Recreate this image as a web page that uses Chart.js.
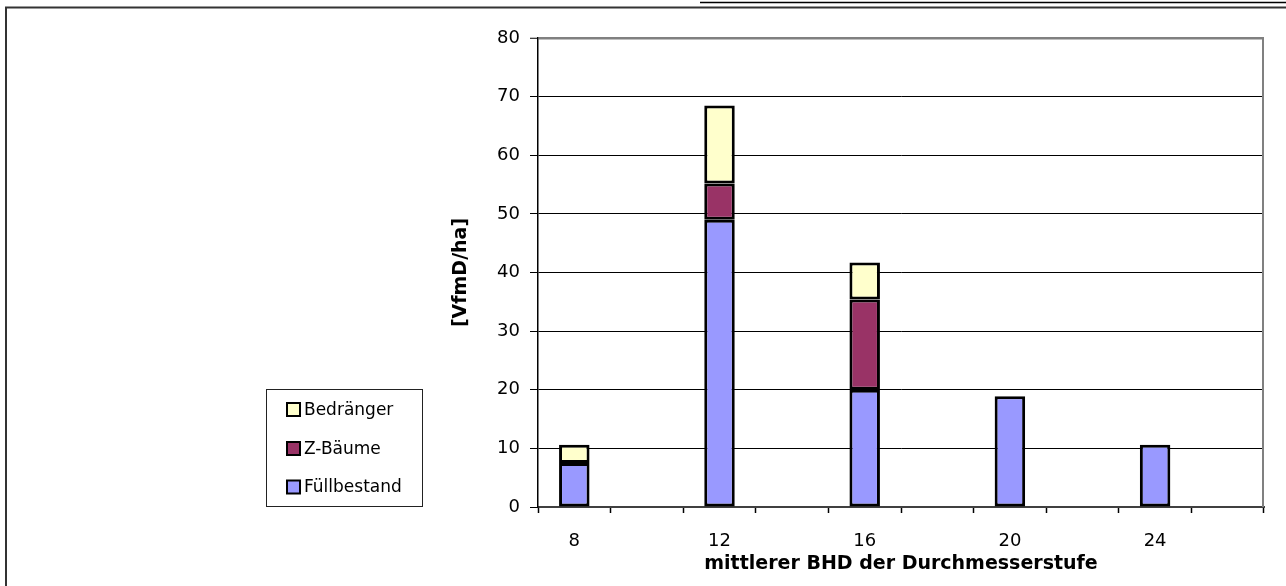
<!DOCTYPE html>
<html>
<head>
<meta charset="utf-8">
<script src="https://cdn.jsdelivr.net/npm/chart.js@4/dist/chart.umd.min.js"></script>
<style>
html,body{margin:0;padding:0;background:#fff;}
canvas{display:block;}
</style>
</head>
<body>
<canvas id="c" width="1286" height="586"></canvas>
<script>
const categories = ['8','10','12','14','16','18','20','22','24','26'];
const fuellbestand = [7.5, null, 49.0, null, 20.0, null, 18.9, null, 10.6, null];
const zBaeume      = [null, null, 6.2, null, 15.4, null, null, null, null, null];
const bedraenger   = [3.1, null, 13.3, null, 6.3, null, null, null, null, null];
const yTicks = [0,10,20,30,40,50,60,70,80];

const FONT = "'DejaVu Sans', sans-serif";

const framePlugin = {
  id: 'frame',
  beforeDraw(chart) {
    const ctx = chart.ctx;
    ctx.save();
    ctx.fillStyle = '#fff';
    ctx.fillRect(0, 0, chart.width, chart.height);
    ctx.strokeStyle = '#333';
    ctx.lineWidth = 2;
    ctx.beginPath();
    ctx.moveTo(6, 586);
    ctx.lineTo(6, 7.5);
    ctx.lineTo(1286, 7.5);
    ctx.stroke();
    ctx.strokeStyle = '#000';
    ctx.lineWidth = 1.5;
    ctx.beginPath();
    ctx.moveTo(700, 2.5);
    ctx.lineTo(1286, 2.5);
    ctx.stroke();
    ctx.restore();
  },
  afterDraw(chart) {
    const ctx = chart.ctx;
    const a = chart.chartArea;
    ctx.save();
    ctx.strokeStyle = '#808080';
    ctx.lineWidth = 2;
    ctx.beginPath();
    ctx.moveTo(a.right - 1, a.top);
    ctx.lineTo(a.right - 1, a.bottom);
    ctx.stroke();
    ctx.strokeStyle = '#222';
    ctx.lineWidth = 1;
    ctx.strokeRect(266.5, 389.5, 156, 117);
    const ds = chart.data.datasets.slice().reverse();
    const ys = [409.5, 448.5, 487];
    ctx.font = '17px ' + FONT;
    ctx.textBaseline = 'middle';
    ctx.textAlign = 'left';
    ds.forEach((d, i) => {
      const y = ys[i];
      ctx.fillStyle = d.backgroundColor;
      ctx.fillRect(287, y - 6.5, 13, 13);
      ctx.strokeStyle = '#000';
      ctx.lineWidth = 2;
      ctx.strokeRect(287, y - 6.5, 13, 13);
      ctx.fillStyle = '#000';
      ctx.fillText(d.label, 304, y + 1);
    });
    ctx.restore();
  }
};

new Chart(document.getElementById('c'), {
  type: 'bar',
  data: {
    labels: categories,
    datasets: [
      { label: 'Füllbestand', data: fuellbestand, backgroundColor: '#9999FF', borderColor: '#000', borderWidth: 3, borderSkipped: false },
      { label: 'Z-Bäume', data: zBaeume, backgroundColor: '#993366', borderColor: '#000', borderWidth: 3, borderSkipped: false },
      { label: 'Bedränger', data: bedraenger, backgroundColor: '#FFFFCC', borderColor: '#000', borderWidth: 3, borderSkipped: false }
    ]
  },
  options: {
    responsive: false,
    animation: false,
    layout: { padding: { left: 440, top: 38, right: 22, bottom: 0 } },
    plugins: {
      legend: { display: false },
      tooltip: { enabled: false }
    },
    datasets: { bar: { barPercentage: 0.42, categoryPercentage: 1.0 } },
    scales: {
      x: {
        stacked: true,
        offset: true,
        afterFit(scale) { scale.height = 79; },
        grid: { offset: true, drawOnChartArea: false, drawTicks: true, tickLength: 6, tickColor: '#000', tickWidth: 1.5 },
        border: { display: true, color: '#404040', width: 2 },
        ticks: {
          autoSkip: false, maxRotation: 0, padding: 18, color: '#000',
          font: { family: FONT, size: 18 },
          callback: (v, i) => (i % 2 === 0 ? categories[i] : '')
        },
        title: {
          display: true, text: 'mittlerer BHD der Durchmesserstufe', color: '#000',
          font: { family: FONT, size: 19, weight: 'bold' },
          padding: { top: 0, bottom: 11 }
        }
      },
      y: {
        stacked: true,
        min: 0, max: 80,
        afterFit(scale) { scale.width = 98; },
        afterBuildTicks(scale) { scale.ticks = yTicks.map(v => ({ value: v })); },
        grid: {
          color: (c) => (c.tick && c.tick.value === 80 ? '#808080' : '#000'),
          lineWidth: (c) => (c.tick && c.tick.value === 80 ? 2.5 : 1),
          tickColor: '#000', tickLength: 8, tickWidth: 1
        },
        border: { display: true, color: '#000', width: 1.5 },
        ticks: { padding: 10, color: '#000', font: { family: FONT, size: 18 } },
        title: {
          display: true, text: '[VfmD/ha]', color: '#000',
          font: { family: FONT, size: 19, weight: 'bold' },
          padding: { top: 10, bottom: 0 }
        }
      }
    }
  },
  plugins: [framePlugin]
});
</script>
</body>
</html>
